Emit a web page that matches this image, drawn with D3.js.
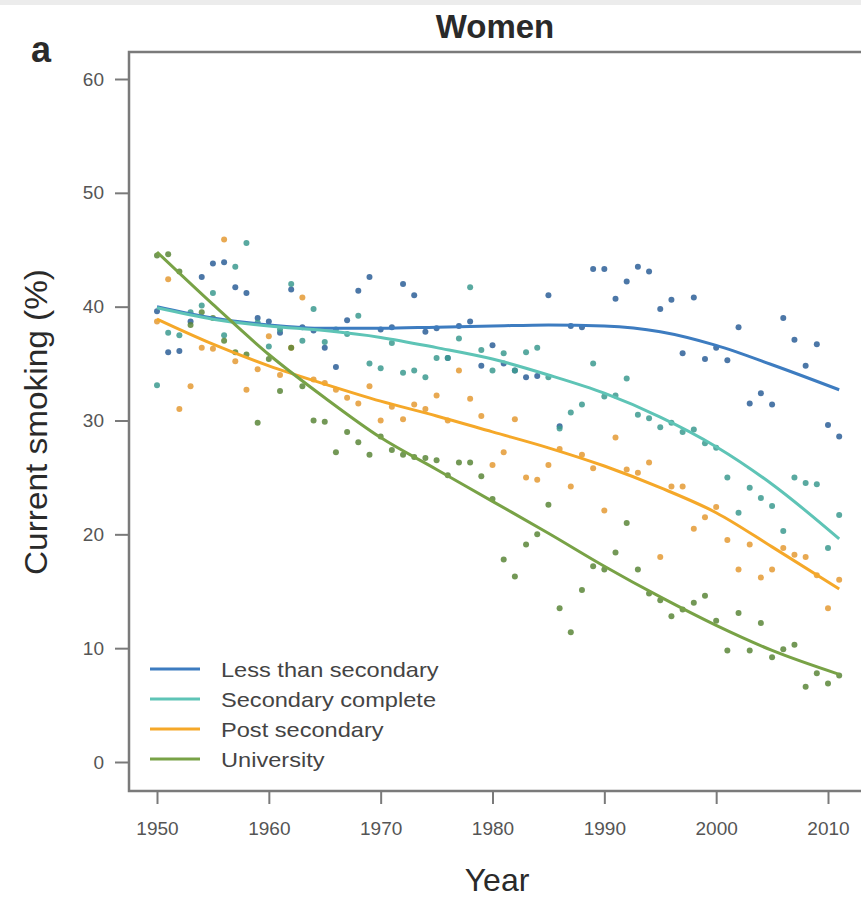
<!DOCTYPE html>
<html>
<head>
<meta charset="utf-8">
<script src="https://cdn.jsdelivr.net/npm/d3@7"></script>
<style>
  body { margin: 0; background: #fff; }
  text { font-family: "Liberation Sans", Arial, sans-serif; }
</style>
</head>
<body>
<script>
// years of survey, one point per year per group
var years = d3.range(1950, 2012);

var lessSec = [39.6,36.0,36.1,38.7,42.6,43.8,43.9,41.7,41.2,39.0,38.7,37.7,41.5,38.2,37.9,36.4,34.7,38.8,41.4,42.6,
  38.0,38.2,42.0,41.0,37.8,38.1,35.5,38.3,38.7,34.8,36.6,35.0,34.4,33.8,33.9,41.0,29.5,38.3,38.2,43.3,
  43.3,40.7,42.2,43.5,43.1,39.8,40.6,35.9,40.8,35.4,36.4,35.3,38.2,31.5,32.4,31.4,39.0,37.1,34.8,36.7,29.6,28.6];
var secComp = [33.1,37.7,37.5,39.5,40.1,41.2,37.5,43.5,45.6,38.6,36.5,38.0,42.0,37.0,39.8,36.9,38.0,37.6,39.2,35.0,
  34.6,36.8,34.2,34.4,33.8,35.5,35.5,37.2,41.7,36.2,34.4,35.9,34.4,36.0,36.4,33.8,29.3,30.7,31.4,35.0,
  32.1,32.2,33.7,30.5,30.2,29.4,29.8,29.0,29.2,28.0,27.6,25.0,21.9,24.1,23.2,22.5,20.3,25.0,24.5,24.4,18.8,21.7];
var postSec = [38.7,42.4,31.0,33.0,36.4,36.3,45.9,35.2,32.7,34.5,37.4,34.0,36.4,40.8,33.6,33.3,32.7,32.0,31.5,33.0,
  30.0,31.2,30.1,31.4,31.0,32.2,30.0,34.4,31.9,30.4,26.1,27.2,30.1,25.0,24.8,26.1,27.5,24.2,27.0,25.8,
  22.1,28.5,25.7,25.4,26.3,18.0,24.2,24.2,20.5,21.5,22.4,19.5,16.9,19.1,16.2,16.9,18.8,18.2,18.0,16.4,13.5,16.0];
var univ = [44.5,44.6,43.1,38.4,39.5,39.0,37.0,36.0,35.8,29.8,35.4,32.6,36.4,33.0,30.0,29.9,27.2,29.0,28.1,27.0,
  28.6,27.4,27.0,26.8,26.7,26.5,25.2,26.3,26.3,25.1,23.1,17.8,16.3,19.1,20.0,22.6,13.5,11.4,15.1,17.2,
  16.9,18.4,21.0,16.9,14.8,14.2,12.8,13.4,14.0,14.6,12.4,9.8,13.1,9.8,12.2,9.2,9.9,10.3,6.6,7.8,6.9,7.6];

// smoothed trend
var fitYears = [1950,1955,1960,1965,1970,1975,1980,1985,1990,1995,2000,2005,2011];
var fitLess  = [40.0,39.0,38.4,38.1,38.1,38.2,38.3,38.4,38.3,37.8,36.6,34.9,32.7];
var fitSec   = [39.9,38.9,38.3,37.9,37.3,36.4,35.4,34.0,32.4,30.3,27.7,24.4,19.6];
var fitPost  = [38.9,36.7,34.8,33.2,31.7,30.4,29.0,27.6,26.0,24.1,21.9,18.9,15.2];
var fitUniv  = [44.8,40.2,35.8,32.0,28.5,25.7,22.9,20.1,17.2,14.5,12.0,9.8,7.7];

var groups = ["Less than secondary", "Secondary complete", "Post secondary", "University"];
var xTicks = [1950,1960,1970,1980,1990,2000,2010];
var yTicks = [0,10,20,30,40,50,60];

var series = [
  {name: groups[0], pts: lessSec, fit: fitLess, line: "#3d7cc0", dot: "#2d5f98"},
  {name: groups[1], pts: secComp, fit: fitSec, line: "#5ec4b6", dot: "#3c9a8f"},
  {name: groups[2], pts: postSec, fit: fitPost, line: "#f5a829", dot: "#e49a34"},
  {name: groups[3], pts: univ, fit: fitUniv, line: "#78a246", dot: "#5b8638"}
];

var W = 861, H = 899;
var svg = d3.select("body").append("svg")
    .attr("width", W)
    .attr("height", H);

svg.append("rect").attr("width", W).attr("height", 5).attr("fill", "#ececec");

var box = {left: 129, top: 52, bottom: 791};

var x = d3.scaleLinear().domain([1950, 2010]).range([157, 828]);
var y = d3.scaleLinear().domain([0, 60]).range([762, 79]);

var axisCol = "#7a7a7a";

// box (right edge falls outside the picture)
svg.append("path")
  .attr("d", "M" + (W + 5) + "," + box.top + "H" + box.left + "V" + box.bottom + "H" + (W + 5))
  .attr("fill", "none")
  .attr("stroke", axisCol)
  .attr("stroke-width", 2.5);

// Add the Y Axis
var yAxis = svg.append("g")
  .attr("transform", "translate(" + box.left + ",0)")
  .call(d3.axisLeft(y).tickValues(yTicks).tickSize(14).tickPadding(11));
yAxis.select(".domain").remove();
yAxis.selectAll("line").attr("stroke", axisCol).attr("stroke-width", 2);
yAxis.selectAll("text").attr("fill", "#555").style("font-size", "19px");

// Add the X Axis
var xAxis = svg.append("g")
  .attr("transform", "translate(0," + box.bottom + ")")
  .call(d3.axisBottom(x).tickValues(xTicks).tickFormat(d3.format("d")).tickSize(13).tickPadding(18));
xAxis.select(".domain").remove();
xAxis.selectAll("line").attr("stroke", axisCol).attr("stroke-width", 2);
xAxis.selectAll("text").attr("fill", "#555").style("font-size", "19px");

var plot = svg.append("g");

// points
series.forEach(function(s) {
  plot.selectAll(null)
    .data(s.pts)
    .enter().append("circle")
    .attr("cx", function(d, i) { return x(years[i]); })
    .attr("cy", function(d) { return y(d); })
    .attr("r", 3)
    .attr("fill", s.dot)
    .attr("opacity", 0.85);
});

// smooth curves
var line = d3.line()
  .x(function(d, i) { return x(fitYears[i]); })
  .y(function(d) { return y(d); })
  .curve(d3.curveMonotoneX);

series.forEach(function(s) {
  plot.append("path")
    .datum(s.fit)
    .attr("d", line)
    .attr("fill", "none")
    .attr("stroke", s.line)
    .attr("stroke-width", 3);
});

// legend
var leg = svg.append("g");
series.forEach(function(s, i) {
  var ly = 669 + i * 30;
  leg.append("line")
    .attr("x1", 150).attr("x2", 200)
    .attr("y1", ly).attr("y2", ly)
    .attr("stroke", s.line)
    .attr("stroke-width", 3);
  leg.append("text")
    .attr("transform", "translate(221," + ly + ") scale(1.18,1)")
    .attr("dy", "0.38em")
    .attr("fill", "#444")
    .style("font-size", "20px")
    .text(s.name);
});

// titles
svg.append("text")
  .attr("x", 495).attr("y", 38)
  .attr("text-anchor", "middle")
  .style("font-size", "33px")
  .style("font-weight", "bold")
  .attr("fill", "#2a2a2a")
  .text("Women");

svg.append("text")
  .attr("x", 41).attr("y", 62)
  .attr("text-anchor", "middle")
  .style("font-size", "36px")
  .style("font-weight", "bold")
  .attr("fill", "#2a2a2a")
  .text("a");

svg.append("text")
  .attr("transform", "translate(47,422) rotate(-90)")
  .attr("text-anchor", "middle")
  .attr("textLength", 306)
  .attr("lengthAdjust", "spacingAndGlyphs")
  .style("font-size", "31px")
  .attr("fill", "#2a2a2a")
  .text("Current smoking (%)");

svg.append("text")
  .attr("x", 497).attr("y", 891)
  .attr("text-anchor", "middle")
  .style("font-size", "32px")
  .attr("fill", "#2a2a2a")
  .text("Year");
</script>
</body>
</html>
